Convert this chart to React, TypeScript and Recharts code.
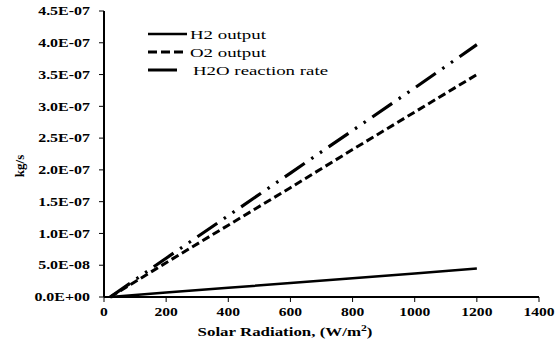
import { Label, Legend, Line, LineChart, XAxis, YAxis } from "recharts";

// solar radiation (W/m2) vs mass flow rates (kg/s)
const radiation = [20, 200, 400, 600, 800, 1000, 1200];
const h2Output = [0, 6.9e-9, 1.45e-8, 2.2e-8, 2.95e-8, 3.7e-8, 4.5e-8];
const o2Output = [0, 5.4e-8, 1.13e-7, 1.72e-7, 2.32e-7, 2.91e-7, 3.5e-7];
const h2oRate = [0, 6.1e-8, 1.28e-7, 1.95e-7, 2.62e-7, 3.29e-7, 3.97e-7];

const xTicks = [0, 200, 400, 600, 800, 1000, 1200, 1400];
const yTicks = [0, 5e-8, 1e-7, 1.5e-7, 2e-7, 2.5e-7, 3e-7, 3.5e-7, 4e-7, 4.5e-7];

const seriesNames = ["H2 output", "O2 output", "H2O reaction rate"];

const data = radiation.map((x, i) => ({
  x,
  h2: h2Output[i],
  o2: o2Output[i],
  h2o: h2oRate[i]
}));

const serif = "'Liberation Serif', 'Times New Roman', serif";

function sci(v: number) {
  if (v === 0) return "0.0E+00";
  const [m, e] = v.toExponential(1).split("e");
  const n = parseInt(e, 10);
  return `${m}E${n < 0 ? "-" : "+"}${String(Math.abs(n)).padStart(2, "0")}`;
}

function YTick({ x, y, payload }: any) {
  return (
    <text
      transform={`translate(${x},${y}) scale(1.33,1)`}
      textAnchor="end"
      dy="0.35em"
      fontFamily={serif}
      fontWeight="bold"
      fontSize={12}
      fill="#000"
    >
      {sci(payload.value)}
    </text>
  );
}

function XTick({ x, y, payload }: any) {
  return (
    <text
      transform={`translate(${x},${y}) scale(1.3,1)`}
      textAnchor="middle"
      dy={12}
      fontFamily={serif}
      fontWeight="bold"
      fontSize={12}
      fill="#000"
    >
      {payload.value}
    </text>
  );
}

function LegendBox() {
  const rows = [
    { dash: undefined, len: 39, tx: 42 },
    { dash: "9 4", len: 39, tx: 42 },
    { dash: undefined, len: 29, tx: 45 }
  ];
  return (
    <svg width={200} height={60}>
      {rows.map((r, i) => (
        <g key={seriesNames[i]} transform={`translate(0,${9 + i * 18})`}>
          <line x1={0} x2={r.len} y1={0} y2={0} stroke="#000" strokeWidth={i === 0 ? 2.5 : 3} strokeDasharray={r.dash} />
          <text
            transform={`translate(${r.tx},0) scale(1.45,1)`}
            dy="0.35em"
            fontFamily={serif}
            fontSize={13}
            fill="#000"
          >
            {seriesNames[i]}
          </text>
        </g>
      ))}
    </svg>
  );
}

export default function App() {
  return (
    <div style={{ position: "absolute", left: 0, top: 0, background: "#fff" }}>
      <LineChart width={560} height={343} data={data} margin={{ top: 11, right: 21, bottom: 0, left: 0 }}>
        <XAxis
          dataKey="x"
          type="number"
          domain={[0, 1400]}
          ticks={xTicks}
          height={46}
          axisLine={{ stroke: "#000", strokeWidth: 2 }}
          tickLine={{ stroke: "#000" }}
          tickSize={5}
          tick={<XTick />}
          interval={0}
        >
          <Label
            content={() => (
              <text
                transform="translate(285,336) scale(1.3,1)"
                textAnchor="middle"
                fontFamily={serif}
                fontWeight="bold"
                fontSize={13}
                fill="#000"
              >
                Solar Radiation, (W/m<tspan dy={-5} fontSize={9}>2</tspan>
                <tspan dy={5}>)</tspan>
              </text>
            )}
          />
        </XAxis>
        <XAxis
          xAxisId="top"
          dataKey="x"
          type="number"
          domain={[0, 1400]}
          orientation="top"
          height={0}
          tick={false}
          tickLine={false}
          axisLine={{ stroke: "#8a8a8a", strokeWidth: 2 }}
        />
        <YAxis
          domain={[0, 4.5e-7]}
          ticks={yTicks}
          width={104}
          axisLine={{ stroke: "#000", strokeWidth: 2 }}
          tickLine={{ stroke: "#000" }}
          tickSize={5}
          tickMargin={9}
          tick={<YTick />}
          interval={0}
        >
          <Label
            content={() => (
              <text
                transform="translate(24,166) rotate(-90)"
                textAnchor="middle"
                fontFamily={serif}
                fontWeight="bold"
                fontSize={13}
                fill="#000"
              >
                kg/s
              </text>
            )}
          />
        </YAxis>
        <YAxis
          yAxisId="right"
          orientation="right"
          domain={[0, 4.5e-7]}
          width={0}
          tick={false}
          tickLine={false}
          axisLine={{ stroke: "#000", strokeWidth: 2 }}
        />
        <Legend
          layout="horizontal"
          verticalAlign="middle"
          content={() => <LegendBox />}
          wrapperStyle={{ left: 148, top: 25, width: 200, height: 60 }}
        />
        <Line dataKey="h2" name={seriesNames[0]} type="linear" stroke="#000" strokeWidth={2.5} dot={false} isAnimationActive={false} />
        <Line
          dataKey="o2"
          name={seriesNames[1]}
          type="linear"
          stroke="#000"
          strokeWidth={3}
          strokeDasharray="8 4"
          dot={false}
          isAnimationActive={false}
        />
        <Line
          dataKey="h2o"
          name={seriesNames[2]}
          type="linear"
          stroke="#000"
          strokeWidth={3.2}
          strokeDasharray="24 8 2.5 8 2.5 8"
          dot={false}
          isAnimationActive={false}
        />
      </LineChart>
    </div>
  );
}
